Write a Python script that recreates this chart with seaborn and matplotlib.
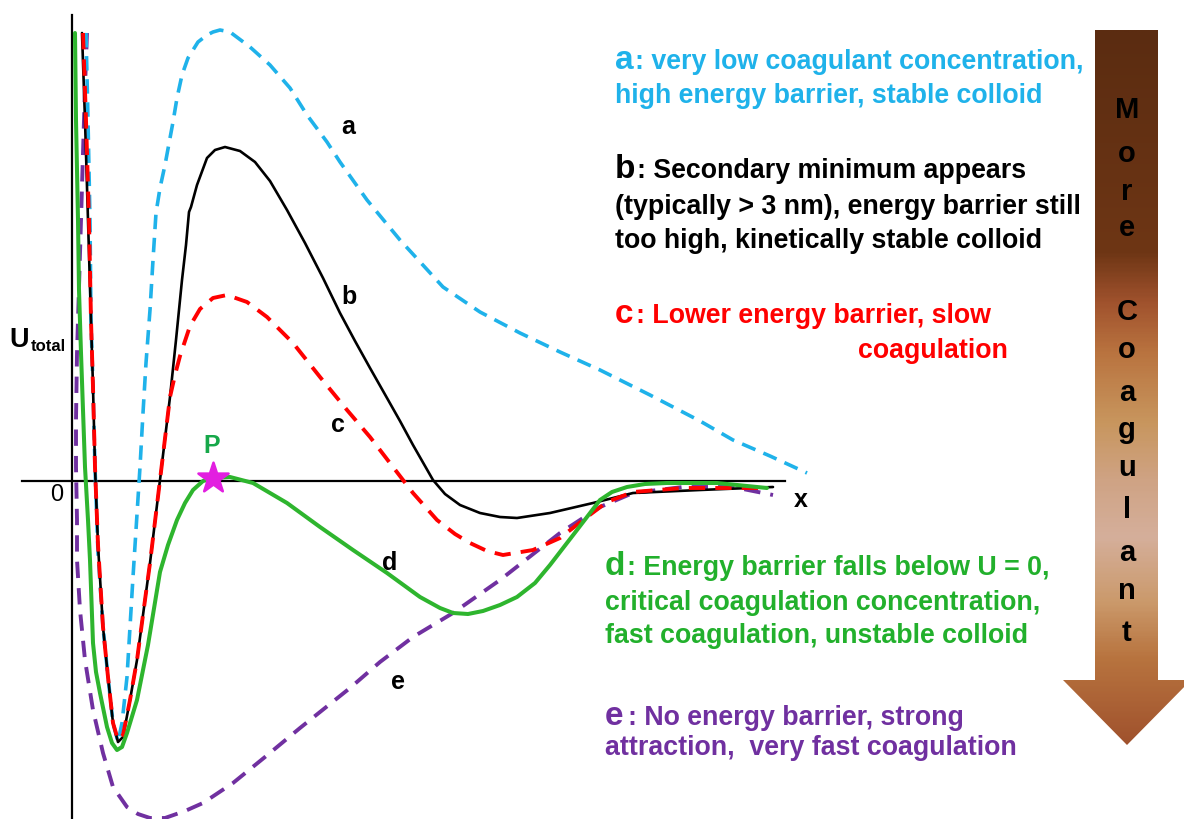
import numpy as np
import pandas as pd
import matplotlib
matplotlib.use("Agg")
import matplotlib.pyplot as plt
import seaborn as sns
from matplotlib.colors import LinearSegmentedColormap
from matplotlib.patches import Polygon

sns.set_theme(style="white")
plt.rcParams["font.family"] = ["Liberation Sans", "DejaVu Sans"]

# ---- data: separation x and total interaction energy U (arbitrary units) ----
a_x = [14, 16, 18, 19, 21, 23, 26, 31, 36, 41, 46, 50, 55, 58, 61, 64, 68, 71, 74, 78,
       81, 84, 88, 93, 101, 105, 110, 116, 126, 135, 141, 148, 158, 178, 198, 218, 235, 255, 268, 295, 328,
       371, 408, 448, 488, 528, 578, 628, 661, 698, 735]
a_u = [448, 361, 261, 161, 94, 14, -72, -146, -196, -242, -261, -242, -196, -146, -96, -49, 14, 68, 118, 171,
       221, 268, 293, 316, 359, 383, 406, 423, 439, 446, 449, 451, 449, 434, 416, 393, 366, 339, 319, 281, 241,
       194, 169, 148, 129, 111, 86, 60, 41, 25, 8]

b_x = [10, 13, 16, 19, 21, 23, 26, 31, 36, 41, 46, 51, 58, 65, 73, 78, 88, 98, 104, 110,
       114, 117, 119, 125, 135, 143, 153, 168, 183, 198, 215, 233, 251, 268, 283, 298, 315, 328, 341, 353,
       361, 373, 388, 408, 428, 445, 478, 521, 561, 628, 701]
b_u = [448, 361, 261, 161, 94, 14, -64, -146, -196, -242, -261, -256, -219, -179, -119, -82, 1, 84, 141, 201,
       236, 269, 274, 296, 323, 331, 334, 330, 319, 300, 271, 238, 203, 168, 140, 113, 83, 60, 36, 15,
       1, -13, -24, -32, -36, -37, -32, -22, -12, -9, -6]

c_x = [11, 14, 17, 19, 21, 23, 26, 31, 36, 41, 46, 51, 58, 65, 73, 78, 88, 98, 103, 108,
       118, 128, 141, 155, 175, 195, 221, 248, 275, 298, 321, 341, 365, 383, 398, 415, 431, 461, 488, 515,
       535, 561, 611, 695]
c_u = [448, 361, 261, 161, 94, 14, -64, -146, -196, -242, -259, -254, -219, -179, -119, -82, 1, 84, 106, 125,
       155, 172, 183, 186, 179, 164, 138, 104, 71, 44, 14, -12, -39, -53, -62, -70, -74, -69, -57, -36,
       -21, -11, -7, -7]

d_x = [3, 4, 6, 7, 9, 11, 13, 16, 18, 21, 24, 28, 35, 40, 45, 50, 55, 65, 76, 88,
       96, 105, 113, 121, 131, 141, 158, 181, 215, 248, 281, 315, 348, 368, 381, 396, 411, 428, 445, 463,
       478, 505, 528, 540, 555, 573, 595, 645, 695]
d_u = [448, 361, 261, 191, 128, 71, 14, -39, -79, -162, -191, -212, -246, -262, -269, -266, -252, -219, -164, -91,
       -64, -39, -22, -9, 0, 3, 4, -2, -22, -46, -69, -92, -116, -127, -132, -133, -130, -124, -116, -102,
       -84, -49, -19, -11, -6, -3, -2, -2, -7]

e_x = [15, 13, 11, 9, 7, 5, 4, 4, 5, 5, 8, 13, 21, 31, 41, 55, 66, 78, 93, 113,
       131, 161, 193, 228, 278, 308, 341, 381, 428, 488, 528, 561, 611, 661, 701]
e_u = [448, 394, 328, 261, 194, 128, 61, 14, -39, -79, -129, -179, -229, -272, -306, -326, -333, -337, -337, -330,
       -322, -302, -276, -247, -207, -181, -156, -132, -99, -52, -26, -12, -6, -6, -14]

p_x, p_u = [141], [3]

arrow_word = list("More") + [""] + list("Coagulant")

# ---- figure: one axes covering the figure, 1 data unit = 1 pixel ----
W, H = 1184, 819
X0, Y0 = 72, 481          # pixel position of the origin
fig = plt.figure(figsize=(W / 100, H / 100), dpi=100)
ax = fig.add_axes([0, 0, 1, 1])
ax.set_facecolor("white")


def P(px, py):
    return px - X0, Y0 - py


# axes lines
for s in ["top", "right"]:
    ax.spines[s].set_visible(False)
ax.spines["left"].set_position(("data", 0))
ax.spines["bottom"].set_position(("data", 0))
ax.spines["left"].set_bounds(Y0 - H, Y0 - 15)
ax.spines["bottom"].set_bounds(22 - X0, 785 - X0)
for s in ["left", "bottom"]:
    ax.spines[s].set_color("black")
    ax.spines[s].set_linewidth(1.6)
    ax.spines[s].set_zorder(1)

CYAN = "#1FB2EA"
RED = "#FF0000"
GREEN = "#2EB52E"
PURPLE = "#7030A0"

sns.lineplot(x=e_x, y=e_u, ax=ax, sort=False, estimator=None, color=PURPLE, lw=2.8,
             linestyle=(0, (4.2, 2.6)), zorder=3)
sns.lineplot(x=a_x, y=a_u, ax=ax, sort=False, estimator=None, color=CYAN, lw=2.6,
             linestyle=(0, (4.0, 2.4)), zorder=3)
sns.lineplot(x=b_x, y=b_u, ax=ax, sort=False, estimator=None, color="black", lw=1.9, zorder=4)
sns.lineplot(x=c_x, y=c_u, ax=ax, sort=False, estimator=None, color=RED, lw=2.8,
             linestyle=(0, (4.2, 2.6)), zorder=5)
sns.lineplot(x=d_x, y=d_u, ax=ax, sort=False, estimator=None, color=GREEN, lw=2.9, zorder=6)
sns.scatterplot(x=p_x, y=p_u, ax=ax, marker="*", s=520, color="#E21FE0", edgecolor="#E21FE0",
                zorder=7, legend=False)

ax.set_xticks([])
ax.set_yticks([])
ax.set_xlabel("")
ax.set_ylabel("")

# curve labels
for lab, (px, py) in zip("abcde", [(348, 127), (349, 297), (338, 425), (390, 563), (398, 682)]):
    ax.text(*P(px, py), lab, fontsize=18, fontweight="bold", ha="center", va="center", color="black")
ax.text(*P(212, 446), "P", fontsize=18, fontweight="bold", ha="center", va="center", color="#17A84A")
ax.text(*P(57, 495), "0", fontsize=17, ha="center", va="center", color="black")
ax.text(*P(801, 500), "x", fontsize=18, fontweight="bold", ha="center", va="center", color="black")
ax.text(*P(9, 347), "U", fontsize=19.5, fontweight="bold", ha="left", va="baseline", color="black")
ax.text(*P(31, 351), "total", fontsize=12, fontweight="bold", ha="left", va="baseline", color="black")

# right-hand descriptions
FS, BIG = 19.3, 24
blocks = [
    ("a", CYAN, 615, 635, [(69, ": very low coagulant concentration,"), (103, "high energy barrier, stable colloid")], [615, 615]),
    ("b", "black", 615, 637, [(178, ": Secondary minimum appears"), (214, "(typically > 3 nm), energy barrier still"),
                              (248, "too high, kinetically stable colloid")], [615, 615, 615]),
    ("c", RED, 615, 636, [(323, ": Lower energy barrier, slow"), (358, "coagulation")], [615, 858]),
    ("d", "#22B02C", 605, 627, [(575, ": Energy barrier falls below U = 0,"), (610, "critical coagulation concentration,"),
                                (643, "fast coagulation, unstable colloid")], [605, 605, 605]),
    ("e", PURPLE, 605, 628, [(725, ": No energy barrier, strong"), (755, "attraction,  very fast coagulation")], [605, 605]),
]
for letter, col, lx, rx, lines, xs in blocks:
    ax.text(*P(lx, lines[0][0]), letter, fontsize=BIG, fontweight="bold", color=col, ha="left", va="baseline")
    for i, ((by, txt), x) in enumerate(zip(lines, xs)):
        xx = rx if i == 0 else x
        ax.text(*P(xx, by), txt, fontsize=FS, fontweight="bold", color=col, ha="left", va="baseline")

# gradient arrow "More Coagulant"
verts = [P(1095, 30), P(1158, 30), P(1158, 680), P(1191, 680), P(1127, 745), P(1063, 680), P(1095, 680)]
poly = Polygon(verts, closed=True, facecolor="none", edgecolor="none", transform=ax.transData)
ax.add_patch(poly)
stops = [(0.0, "#5B2C11"), (0.31, "#6E3615"), (0.38, "#A0522D"), (0.45, "#B9733F"),
         (0.55, "#C8965E"), (0.63, "#CFA384"), (0.71, "#D5AF9B"), (0.80, "#CB9A6C"),
         (0.88, "#B8743F"), (1.0, "#A0522D")]
cmap = LinearSegmentedColormap.from_list("brown", stops)
grad = np.linspace(0, 1, 400).reshape(-1, 1)
x_l, y_t = P(1063, 30)
x_r, y_b = P(1191, 745)
im = ax.imshow(grad, cmap=cmap, aspect="auto", extent=[x_l, x_r, y_b, y_t], origin="upper", zorder=2)
im.set_clip_path(poly)

ys = [110, 154, 192, 228, None, 312, 350, 393, 430, 468, 510, 553, 591, 633]
for ch, yy in zip(arrow_word, ys):
    if ch and yy is not None:
        ax.text(*P(1127, yy), ch, fontsize=21, fontweight="bold", ha="center", va="center", color="black", zorder=3)

ax.set_xlim(-X0, W - X0)
ax.set_ylim(Y0 - H, Y0)
fig.savefig("out.png", dpi=100)
